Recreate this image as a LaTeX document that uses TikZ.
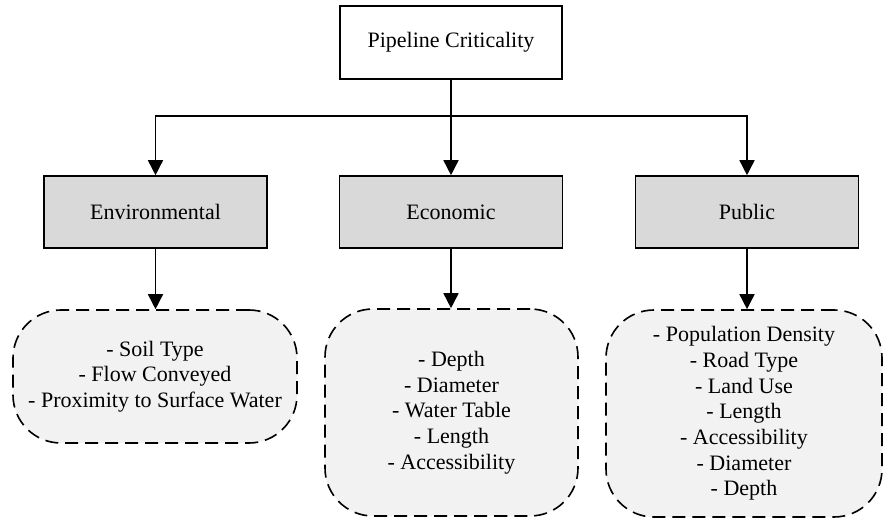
\documentclass[tikz,border=0pt]{standalone}
\usepackage{fontspec}
\setmainfont{LiberationSerif}[Extension=.ttf, UprightFont=*-Regular, BoldFont=*-Bold]
\usetikzlibrary{arrows.meta}
\begin{document}
\begin{tikzpicture}[x=1pt,y=-1pt,
  every node/.style={font=\rmfamily\fontsize{22}{25.7}\selectfont, align=center, inner sep=0pt},
  rootbox/.style={draw=black, line width=1.6pt, fill=white, minimum width=222pt, minimum height=73pt},
  catbox/.style={draw=black, line width=1.6pt, fill=black!15, minimum width=223pt, minimum height=72pt},
  listbox/.style={draw=black, line width=1.6pt, fill=black!5, dash pattern=on 13pt off 7pt, rounded corners=48pt},
  link/.style={line width=1.6pt, -{Triangle[length=15pt,width=15pt]}},
]
\useasboundingbox (0,0) rectangle (883,518);

% root and category boxes
\node[rootbox] (root) at (451,42.5) {Pipeline Criticality};
\node[catbox] (env) at (155.5,212) {Environmental};
\node[catbox] (eco) at (451,212) {Economic};
\node[catbox] (pub) at (747,212) {Public};

% factor lists
\node[listbox, minimum width=284pt, minimum height=133pt] (envl) at (155,376.5)
  {- Soil Type\\- Flow Conveyed\\- Proximity to Surface Water};
\node[listbox, minimum width=253pt, minimum height=207pt] (ecol) at (451.5,412.5)
  {- Depth\\- Diameter\\- Water Table\\- Length\\- Accessibility};
\node[listbox, minimum width=276pt, minimum height=207pt] (publ) at (744,413.5)
  {- Population Density\\- Road Type\\- Land Use\\- Length\\- Accessibility\\- Diameter\\- Depth};

% branching bus
\coordinate (bus) at (451,116);
\draw[line width=1.6pt] (root.south) -- (bus);
\draw[link] (bus) -| (env.north);
\draw[link] (bus) -| (pub.north);
\draw[link] (bus) -- (eco.north);

% category to list
\draw[link] (env.south) -- (env.south |- envl.north);
\draw[link] (eco.south) -- (eco.south |- ecol.north);
\draw[link] (pub.south) -- (pub.south |- publ.north);
\end{tikzpicture}
\end{document}
